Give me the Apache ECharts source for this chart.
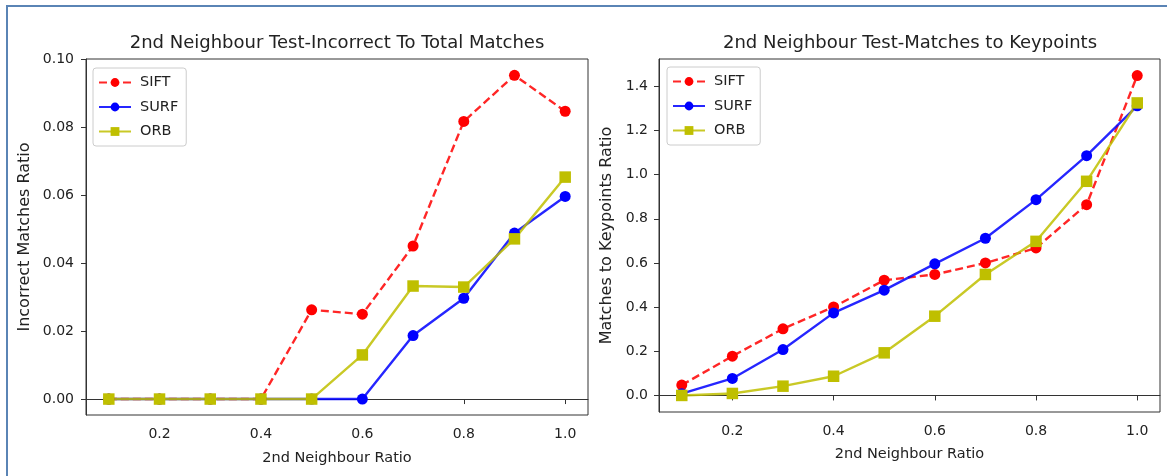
<!DOCTYPE html>
<html>
<head>
<meta charset="utf-8">
<script src="https://cdn.jsdelivr.net/npm/echarts@6/dist/echarts.min.js"></script>
<style>
    html, body { margin: 0; padding: 0; background: #fff; }
    #chart { width: 1167px; height: 476px; }
</style>
</head>
<body>
<div id="chart"></div>
<script>
// 2nd neighbour ratio (x axis, shared by both plots)
var ratios = [0.1, 0.2, 0.3, 0.4, 0.5, 0.6, 0.7, 0.8, 0.9, 1.0];
var xTicks = [0.2, 0.4, 0.6, 0.8, 1.0];

// left plot: incorrect / total matches
var incorrectSift = [0, 0, 0, 0, 0.0263, 0.0250, 0.0451, 0.0818, 0.0954, 0.0848];
var incorrectSurf = [0, 0, 0, 0, 0, 0, 0.0187, 0.0297, 0.0489, 0.0597];
var incorrectOrb  = [0, 0, 0, 0, 0, 0.0130, 0.0333, 0.0330, 0.0472, 0.0654];
var incorrectTicks = [0, 0.02, 0.04, 0.06, 0.08, 0.10];

// right plot: matches / keypoints
var keypointSift = [0.047, 0.178, 0.302, 0.401, 0.522, 0.548, 0.600, 0.668, 0.864, 1.449];
var keypointSurf = [0.008, 0.077, 0.208, 0.374, 0.477, 0.596, 0.712, 0.887, 1.086, 1.312];
var keypointOrb  = [0.000, 0.009, 0.042, 0.087, 0.193, 0.359, 0.548, 0.698, 0.970, 1.325];
var keypointTicks = [0, 0.2, 0.4, 0.6, 0.8, 1.0, 1.2, 1.4];

var methods = ['SIFT', 'SURF', 'ORB'];

function pairs(ys) {
    var out = [];
    for (var i = 0; i < ratios.length; i++) {
        out.push([ratios[i], ys[i]]);
    }
    return out;
}

var txt = '#222';
var font = 'DejaVu Sans';

function xAxisOf(idx, gap) {
    return {
        type: 'value', gridIndex: idx, min: 0.055, max: 1.045,
        name: '2nd Neighbour Ratio', nameLocation: 'middle', nameGap: gap,
        nameTextStyle: { color: txt, fontSize: 14.5, fontFamily: font },
        axisLine: { show: true, lineStyle: { color: '#333', width: 1 } },
        axisTick: { show: true, length: 5, lineStyle: { color: '#333' }, customValues: xTicks },
        axisLabel: { color: txt, fontSize: 14, fontFamily: font, margin: 12,
            customValues: xTicks,
            formatter: function (v) { return v.toFixed(1); } },
        splitLine: { show: false }
    };
}

function yAxisOf(idx, min, max, ticks, digits, name, gap, margin) {
    return {
        type: 'value', gridIndex: idx, min: min, max: max,
        name: name, nameLocation: 'middle', nameGap: gap,
        nameTextStyle: { color: txt, fontSize: 16, fontFamily: font },
        axisLine: { show: true, lineStyle: { color: '#333', width: 1 } },
        axisTick: { show: true, length: 5, lineStyle: { color: '#333' }, customValues: ticks },
        axisLabel: { color: txt, fontSize: 14, fontFamily: font, margin: margin,
            customValues: ticks,
            formatter: function (v) { return v.toFixed(digits); } },
        splitLine: { show: false }
    };
}

function lineOf(name, idx, ys, color, symbol, dashed) {
    return {
        name: name, type: 'line', xAxisIndex: idx, yAxisIndex: idx,
        data: pairs(ys),
        symbol: symbol, symbolSize: symbol == 'rect' ? 11.5 : 11,
        showAllSymbol: true,
        itemStyle: { color: color },
        lineStyle: { color: color, width: 2.4, opacity: 0.85,
            type: dashed ? [8, 4] : 'solid' },
        emphasis: { disabled: true }
    };
}

function legendOf(left, top) {
    return {
        data: methods, left: left, top: top, orient: 'vertical',
        selectedMode: false,
        itemWidth: 32, itemHeight: 11, itemGap: 9.5,
        padding: [7, 8, 7, 5],
        borderColor: '#ccc', borderWidth: 1, borderRadius: 3,
        textStyle: { color: txt, fontSize: 14.5, fontFamily: font, padding: [0, 0, 0, 4] }
    };
}

var myChart = echarts.init(document.getElementById('chart'));
myChart.setOption({
    animation: false,
    backgroundColor: '#fff',
    title: [
        { text: '2nd Neighbour Test-Incorrect To Total Matches', left: 337, top: 34, textAlign: 'center', padding: 0,
          textStyle: { color: txt, fontSize: 18, fontWeight: 'normal', fontFamily: font } },
        { text: '2nd Neighbour Test-Matches to Keypoints', left: 910, top: 34, textAlign: 'center', padding: 0,
          textStyle: { color: txt, fontSize: 18, fontWeight: 'normal', fontFamily: font } }
    ],
    legend: [legendOf(93, 68), legendOf(667, 67)],
    grid: [
        { left: 86, top: 59, width: 502, height: 356, show: true, borderColor: '#333', borderWidth: 1 },
        { left: 659, top: 59, width: 501, height: 353, show: true, borderColor: '#333', borderWidth: 1 }
    ],
    xAxis: [xAxisOf(0, 36), xAxisOf(1, 35)],
    yAxis: [
        yAxisOf(0, -0.0047, 0.1002, incorrectTicks, 2, 'Incorrect Matches Ratio', 53, 12),
        yAxisOf(1, -0.075, 1.524, keypointTicks, 1, 'Matches to Keypoints Ratio', 44, 11)
    ],
    series: [
        lineOf('SIFT', 0, incorrectSift, '#ff0000', 'circle', true),
        lineOf('SURF', 0, incorrectSurf, '#0000ff', 'circle', false),
        lineOf('ORB', 0, incorrectOrb, '#bfbf00', 'rect', false),
        lineOf('SIFT', 1, keypointSift, '#ff0000', 'circle', true),
        lineOf('SURF', 1, keypointSurf, '#0000ff', 'circle', false),
        lineOf('ORB', 1, keypointOrb, '#bfbf00', 'rect', false)
    ],
    graphic: [
        { type: 'line', shape: { x1: 7, y1: 6, x2: 7, y2: 476 }, style: { stroke: '#5a84b5', lineWidth: 2 } },
        { type: 'line', shape: { x1: 6, y1: 6, x2: 1167, y2: 6 }, style: { stroke: '#5a84b5', lineWidth: 2 } }
    ]
});
</script>
</body>
</html>
